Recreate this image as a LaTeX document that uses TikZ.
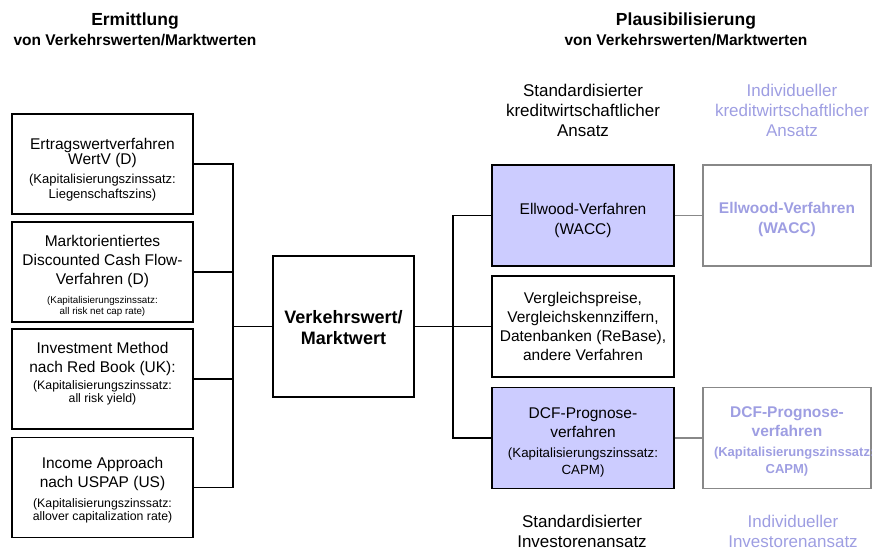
\documentclass[tikz,border=0pt]{standalone}
\usepackage{fontspec}
\setmainfont{Liberation Sans}
\usetikzlibrary{positioning}
\definecolor{lavender}{RGB}{204,204,255}
\definecolor{faint}{RGB}{158,158,226}
\definecolor{greyline}{RGB}{136,136,136}
\newcommand{\fsz}[2]{\fontsize{#1}{#2}\selectfont}
\newcommand{\uplift}[1]{\rule{0pt}{#1}}
\newcommand{\downlift}[1]{\rule[-#1]{0pt}{1pt}}

\begin{document}
\begin{tikzpicture}[x=1pt, y=-1pt,
	every node/.style={inner sep=0pt, align=center},
	box/.style={draw, line width=1.5pt, minimum width=181pt, minimum height=100pt, font=\fsz{15.5}{19}},
	std/.style={box, fill=lavender, minimum width=182pt, minimum height=101pt},
	ind/.style={draw=greyline, line width=1.5pt, minimum width=168pt, minimum height=101pt, text=faint, font=\fsz{15.5}{19}\bfseries},
	link/.style={line width=1.5pt},
	glink/.style={line width=1.5pt, draw=greyline}]
	\useasboundingbox (0,0) rectangle (872,550);
	\clip (0,0) rectangle (872,550);
	%Headings
	\node [font=\fsz{17.5}{20}\bfseries] (hl1) at (135,21) {Ermittlung};
	\node [font=\fsz{15.5}{18}\bfseries] (hl2) at (135,40) {von Verkehrswerten/Marktwerten};
	\node [font=\fsz{17.5}{20}\bfseries] (hr1) at (686,21) {Plausibilisierung};
	\node [font=\fsz{15.5}{18}\bfseries] (hr2) at (686,40) {von Verkehrswerten/Marktwerten};
	\node [font=\fsz{17}{20}] (kstd) at (583,110) {Standardisierter\\kreditwirtschaftlicher\\Ansatz};
	\node [font=\fsz{17}{20}, text=faint] (kind) at (792,110) {Individueller\\kreditwirtschaftlicher\\Ansatz};
	%Ermittlung
	\node [box] (e1) at (102.5,164) {\uplift{23pt}Ertragswertverfahren\\[-4pt]WertV (D)\\\fsz{13}{15}(Kapitalisierungszinssatz:\\[-4pt]\fsz{13}{15}Liegenschaftszins)};
	\node [box] (e2) at (102.5,272) {\uplift{19pt}Marktorientiertes\\Discounted Cash Flow-\\Verfahren (D)\\\fsz{9.8}{11}(Kapitalisierungszinssatz:\\[-8pt]\fsz{9.8}{11}all risk net cap rate)};
	\node [box] (e3) at (102.5,379) {Investment Method\\nach Red Book (UK):\\[-2pt]\fsz{12.3}{14}(Kapitalisierungszinssatz:\\[-6pt]\fsz{12.3}{14}all risk yield\downlift{14pt})};
	\node [box] (e4) at (102.5,487.5) {\uplift{16pt}Income Approach\\nach USPAP (US)\\[1pt]\fsz{12.3}{14}(Kapitalisierungszinssatz:\\[-6pt]\fsz{12.3}{14}allover capitalization rate)};
	%Verkehrswert
	\node [box, minimum width=141pt, minimum height=141pt, font=\fsz{18}{21}\bfseries] (vw) at (343.5,326.5) {\uplift{16pt}Verkehrswert/\\Marktwert};
	\coordinate (lj) at (233,326.5);
	\draw [link] (e1.east) -| (lj);
	\draw [link] (e2.east) -| (lj);
	\draw [link] (e3.east) -| (lj);
	\draw [link] (e4.east) -| (lj);
	\draw [link] (lj) -- (vw.west);
	%Plausibilisierung
	\node [std] (ellw) at (583,215.5) {\uplift{21pt}Ellwood-Verfahren\\[1pt](WACC)};
	\node [box, minimum width=182pt, minimum height=101pt] (vgl) at (583,326.5) {Vergleichspreise,\\Vergleichskennziffern,\\Datenbanken (ReBase),\\andere Verfahren};
	\node [std] (dcf) at (583,438) {\uplift{19pt}DCF-Prognose-\\verfahren\\[1pt]\fsz{13.3}{16}(Kapitalisierungszinssatz:\\[-2pt]\fsz{13.3}{16}CAPM)};
	\coordinate (rj) at (453,326.5);
	\draw [link] (vw.east) -- (vgl.west);
	\draw [link] (ellw.west) -| (rj);
	\draw [link] (dcf.west) -| (rj);
	%Individuell
	\node [ind] (ellwInd) at (787,215.5) {\uplift{20pt}Ellwood-Verfahren\\[1pt](WACC)};
	\node [ind] (dcfInd) at (787,438) {\uplift{18pt}DCF-Prognose-\\verfahren\\[1pt]\fsz{13}{16}\bfseries\makebox[146pt][l]{(Kapitalisierungszinssatz:}\\[-2pt]\fsz{13}{16}\bfseries CAPM)};
	\draw [glink] (ellw.east) -- (ellwInd.west);
	\draw [glink] (dcf.east) -- (dcfInd.west);
	%Investoren
	\node [font=\fsz{17}{20}] (istd) at (582,531) {Standardisierter\\Investorenansatz};
	\node [font=\fsz{17}{20}, text=faint] (iind) at (793,531) {Individueller\\Investorenansatz};
\end{tikzpicture}
\end{document}
